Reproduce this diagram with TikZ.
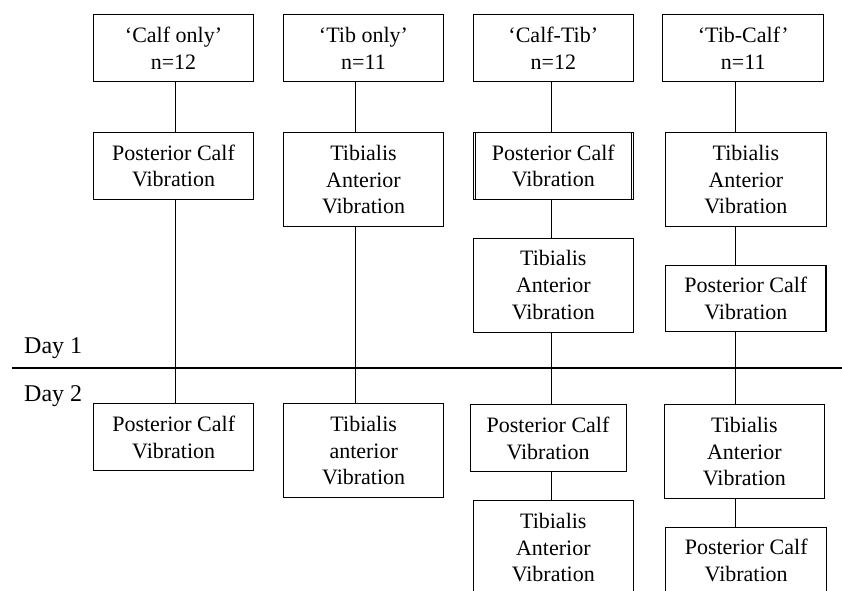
\documentclass[tikz,border=0pt]{standalone}
\usepackage{fontspec}
\setmainfont{Liberation Serif}
\begin{document}
\begin{tikzpicture}[x=1pt,y=-1pt,
  vbox/.style={draw, line width=1pt, inner sep=0pt, align=center,
    font=\fontsize{22}{26.7}\selectfont, minimum width=160.5pt, minimum height=66.7pt},
  tall/.style={minimum height=94pt},
  heavy/.style={line width=1.5pt},
  link/.style={line width=1pt},
  daylabel/.style={anchor=base west, inner sep=0pt, font=\fontsize{24}{28}\selectfont}]
\useasboundingbox (0,0) rectangle (842,590);
\clip (0,0) rectangle (842,590);
% column axes
\coordinate (x1) at (175,0);
\coordinate (x2) at (355.7,0);
\coordinate (x3) at (551.7,0);
\coordinate (x4) at (735.7,0);
% column 1
\node[vbox] (A1) at (173.5,48.3) {‘Calf only’\\n=12};
\node[vbox] (A2) at (173.5,166) {Posterior Calf\\Vibration};
\node[vbox] (A3) at (173.7,437.3) {Posterior Calf\\Vibration};
% column 2
\node[vbox] (B1) at (363.5,48.3) {‘Tib only’\\n=11};
\node[vbox,tall] (B2) at (363.5,179.7) {Tibialis\\Anterior\\Vibration};
\node[vbox,tall] (B3) at (363.7,450.8) {Tibialis\\anterior\\Vibration};
% column 3
\node[vbox] (C1) at (553.3,48.3) {‘Calf-Tib’\\n=12};
\node[vbox] (C2) at (553.3,166) {Posterior Calf\\Vibration};
\draw[line width=0.8pt] ([xshift=2.7pt]C2.north west) -- ([xshift=2.7pt]C2.south west);
\draw[line width=0.8pt] ([xshift=-2.7pt]C2.north east) -- ([xshift=-2.7pt]C2.south east);
\node[vbox,tall] (C3) at (553.3,285) {Tibialis\\Anterior\\Vibration};
\node[vbox,minimum width=156pt] (C4) at (548,438.3) {Posterior Calf\\Vibration};
\node[vbox,tall] (C5) at (553.3,547.7) {Tibialis\\Anterior\\Vibration};
% column 4
\node[vbox,minimum width=161pt] (D1) at (743.2,48.3) {‘Tib-Calf’\\n=11};
\node[vbox,tall] (D2) at (745.85,179.7) {Tibialis\\Anterior\\Vibration};
\node[vbox,heavy,minimum height=66pt] (D3) at (745.85,298.7) {Posterior Calf\\Vibration};
\node[vbox,tall,minimum width=160.7pt] (D4) at (744.35,451.7) {Tibialis\\Anterior\\Vibration};
\node[vbox,heavy,minimum width=161pt] (D5) at (746.2,560.6) {Posterior Calf\\Vibration};
% connectors
\draw[link] (A1.south -| x1) -- (A2.north -| x1);
\draw[link] (A2.south -| x1) -- (A3.north -| x1);
\draw[link] (B1.south -| x2) -- (B2.north -| x2);
\draw[link] (B2.south -| x2) -- (B3.north -| x2);
\draw[link] (C1.south -| x3) -- (C2.north -| x3);
\draw[link] (C2.south -| x3) -- (C3.north -| x3);
\draw[link] (C3.south -| x3) -- (C4.north -| x3);
\draw[link] (C4.south -| x3) -- (C5.north -| x3);
\draw[link] (D1.south -| x4) -- (D2.north -| x4);
\draw[link] (D2.south -| x4) -- (D3.north -| x4);
\draw[link] (D3.south -| x4) -- (D4.north -| x4);
\draw[link] (D4.south -| x4) -- (D5.north -| x4);
% day divider
\coordinate (dayL) at (12.3,368);
\coordinate (dayR) at (842,368);
\draw[line width=2.7pt] (dayL) -- (dayR);
\node[daylabel] (day1) at (24,353.3) {Day 1};
\node[daylabel] (day2) at (24,401) {Day 2};
\end{tikzpicture}
\end{document}
